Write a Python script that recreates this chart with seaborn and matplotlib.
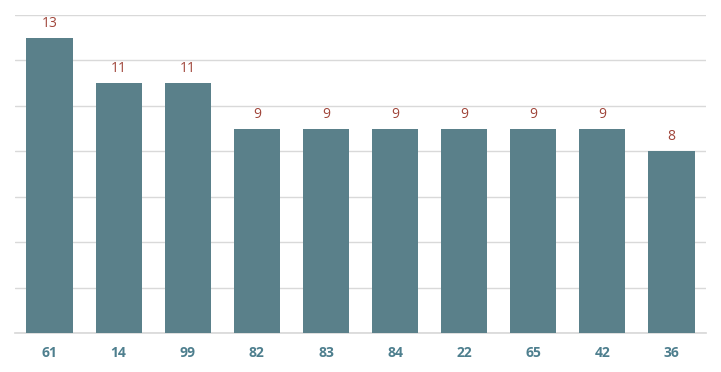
import matplotlib
matplotlib.use("Agg")
import matplotlib.pyplot as plt
import seaborn as sns
import pandas as pd

categories = ["61", "14", "99", "82", "83", "84", "22", "65", "42", "36"]
values = [13, 11, 11, 9, 9, 9, 9, 9, 9, 8]

df = pd.DataFrame({"cat": categories, "val": values})

sns.set_theme(style="white")
plt.rcParams['font.family'] = ['Open Sans', 'DejaVu Sans']

fig = plt.figure(figsize=(7.21, 3.72), dpi=100)
ax = fig.add_axes([15/721, 1 - 333/372, (706 - 15)/721, (333 - 15)/372])

sns.barplot(data=df, x="cat", y="val", color="#5A808A", saturation=1, width=0.67,
            linewidth=0, ax=ax, zorder=3)

ax.set_ylim(0, 14)
ax.set_xlim(-0.5, len(categories) - 0.5)
ax.set_yticks(range(0, 15, 2))
ax.yaxis.grid(True, color="#D9D9D9", linewidth=1, zorder=0)
ax.set_axisbelow(True)
ax.tick_params(axis="y", left=False, labelleft=False)
ax.tick_params(axis="x", bottom=False, pad=3.5)
for lbl in ax.get_xticklabels():
    lbl.set_fontweight("bold")
    lbl.set_color("#4E7F8E")
    lbl.set_fontsize(10)
for s in ["top", "right", "left"]:
    ax.spines[s].set_visible(False)
ax.spines["bottom"].set_color("#D9D9D9")
ax.set_xlabel("")
ax.set_ylabel("")

for i, v in enumerate(values):
    ax.annotate(str(v), (i, v), xytext=(0, 5), textcoords="offset points",
                ha="center", va="bottom", color="#A0453A", fontsize=10)

fig.savefig("out.png", dpi=100)
